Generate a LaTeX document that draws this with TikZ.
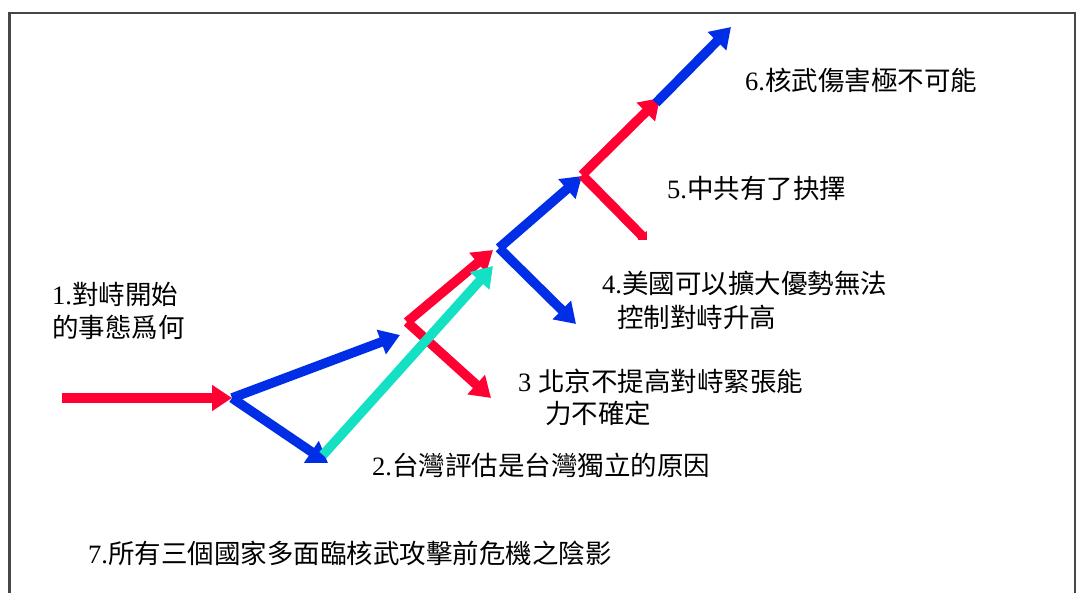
\documentclass[tikz,border=0pt]{standalone}
\usepackage{fontspec}
\setmainfont{Liberation Serif}
\newfontfamily\cjk{Noto Sans CJK TC}
\usetikzlibrary{arrows.meta}
\definecolor{ared}{RGB}{255,0,51}
\definecolor{ablue}{RGB}{0,45,230}
\definecolor{acyan}{RGB}{20,224,196}
\definecolor{frame}{RGB}{70,70,70}
\tikzset{
  flow/.style={line width=9.5pt, line join=miter, -{Triangle[length=20pt,width=25pt]}},
  redf/.style={flow, draw=ared},
  bluef/.style={flow, draw=ablue},
  cyanf/.style={flow, draw=acyan},
  lab/.style={anchor=west, inner sep=0pt, font=\fontsize{26.5}{33}\selectfont, align=left},
  box/.style={fill=white, draw=none, inner sep=0pt},
}
\newcommand{\cj}[1]{{\cjk #1}}
\begin{document}
\begin{tikzpicture}[x=1pt,y=-1pt]
\useasboundingbox (0,0) rectangle (1078,592);
\fill[white] (0,0) rectangle (1078,592);
\draw[frame, line width=2.6pt] (9.5,660) -- (9.5,13) -- (1075,13) -- (1075,660);
% points
\coordinate (s0) at (62,398);
\coordinate (j1) at (232,398);
\coordinate (u1) at (400,335);
\coordinate (d1) at (328,463);
\coordinate (c0) at (323,455);
\coordinate (c1) at (493,266);
\coordinate (j2) at (407,322);
\coordinate (u2) at (493,250);
\coordinate (d2) at (491,398);
\coordinate (j3) at (499,248);
\coordinate (u3) at (582,176);
\coordinate (d3) at (576,324);
\coordinate (j4) at (582,175);
\coordinate (u4) at (660,98);
\coordinate (d4) at (656,250);
\coordinate (j5) at (656,103);
\coordinate (u5) at (731,27);
% connectors
\draw[redf] (s0) -- (j1);
\draw[bluef] (j1) -- (u1);
\draw[bluef] (j1) -- (d1);
\draw[redf] (j2) -- (u2);
\draw[redf] (j2) -- (d2);
\draw[cyanf] (c0) -- (c1);
\draw[bluef] (j3) -- (u3);
\draw[bluef] (j3) -- (d3);
\draw[redf] (j4) -- (u4);
\draw[redf] (j4) -- (d4);
\draw[bluef] (j5) -- (u5);
% label background boxes hiding the tip of the 5-branch
\node[box, minimum width=400pt, minimum height=82pt, anchor=north west] (b5) at (647,158) {};
\node[box, minimum width=440pt, minimum height=20pt, anchor=north west] (b4) at (600,240) {};
% labels
\node[lab] (l1) at (52,311) {1.\cj{對峙開始}\\\cj{的事態爲何}};
\node[lab] (l2) at (372,465) {2.\cj{台灣評估是台灣獨立的原因}};
\node[lab] (l3a) at (518,381) {3 \cj{北京不提高對峙緊張能}};
\node[lab] (l3b) at (545,413) {\cj{力不確定}};
\node[lab] (l4a) at (602,283) {4.\cj{美國可以擴大優勢無法}};
\node[lab] (l4b) at (617,317) {\cj{控制對峙升高}};
\node[lab] (l5) at (667,188) {5.\cj{中共有了抉擇}};
\node[lab] (l6) at (745,80) {6.\cj{核武傷害極不可能}};
\node[lab] (l7) at (88,553) {7.\cj{所有三個國家多面臨核武攻擊前危機之陰影}};
\end{tikzpicture}
\end{document}
